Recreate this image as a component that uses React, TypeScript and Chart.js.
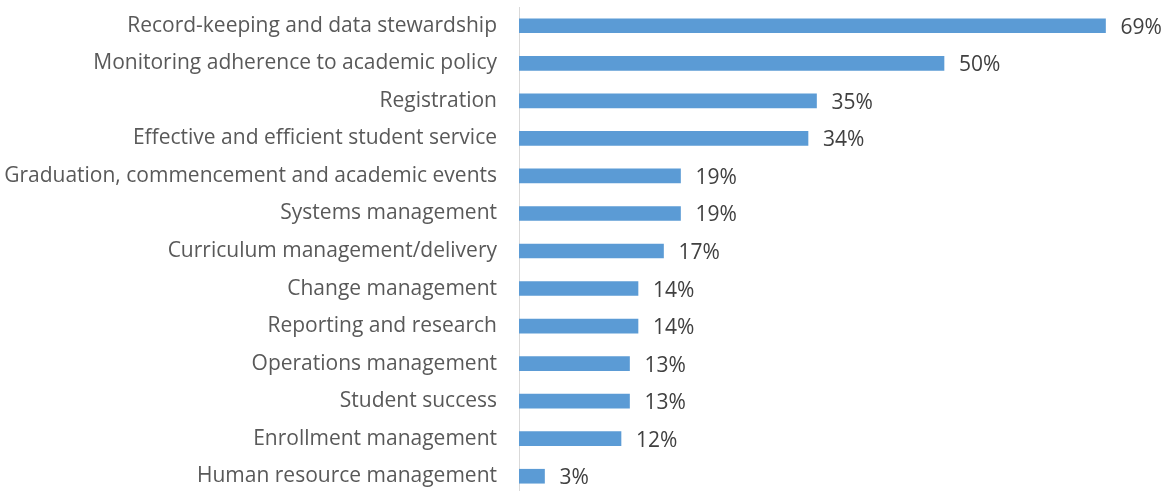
import React, { useEffect, useRef } from "react";
import { Chart, registerables } from "chart.js";

Chart.register(...registerables);

const categories = [
  "Record-keeping and data stewardship",
  "Monitoring adherence to academic policy",
  "Registration",
  "Effective and efficient student service",
  "Graduation, commencement and academic events",
  "Systems management",
  "Curriculum management/delivery",
  "Change management",
  "Reporting and research",
  "Operations management",
  "Student success",
  "Enrollment management",
  "Human resource management",
];

const values = [69, 50, 35, 34, 19, 19, 17, 14, 14, 13, 13, 12, 3];

const FONT_FAMILY = "'Open Sans', sans-serif";
const FONT_SIZE = 21;

const valueLabels = {
  id: "valueLabels",
  afterDatasetsDraw(chart: any) {
    const ctx = chart.ctx;
    const meta = chart.getDatasetMeta(0);
    ctx.save();
    ctx.font = `${FONT_SIZE}px ${FONT_FAMILY}`;
    ctx.fillStyle = "#404040";
    ctx.textAlign = "left";
    ctx.textBaseline = "middle";
    meta.data.forEach((bar: any, i: number) => {
      ctx.fillText(`${values[i]}%`, bar.x + 15, bar.y + 2);
    });
    ctx.restore();
  },
};

export default function App() {
  const ref = useRef<HTMLCanvasElement>(null);
  useEffect(() => {
    const chart = new Chart(ref.current!, {
      type: "bar",
      data: {
        labels: categories,
        datasets: [
          {
            data: values,
            backgroundColor: "#5B9BD5",
            barThickness: 14,
          },
        ],
      },
      options: {
        indexAxis: "y",
        animation: false,
        responsive: true,
        maintainAspectRatio: false,
        layout: { padding: { top: 7, bottom: 5, left: 0, right: 2 } },
        plugins: { legend: { display: false }, tooltip: { enabled: false } },
        scales: {
          x: {
            display: false,
            min: 0,
            max: 76,
          },
          y: {
            grid: { display: false, drawTicks: false },
            border: { display: true, color: "#d9d9d9", width: 1 },
            ticks: {
              padding: 22,
              color: "#595959",
              font: { family: FONT_FAMILY, size: FONT_SIZE },
            },
            afterFit(scale: any) {
              scale.width = 519;
              scale.paddingTop = 0;
              scale.paddingBottom = 0;
            },
          },
        },
      },
      plugins: [valueLabels],
    });
    return () => chart.destroy();
  }, []);
  return (
    <div style={{ position: "absolute", left: 0, top: 0, width: 1167, height: 500 }}>
      <canvas ref={ref} />
    </div>
  );
}
